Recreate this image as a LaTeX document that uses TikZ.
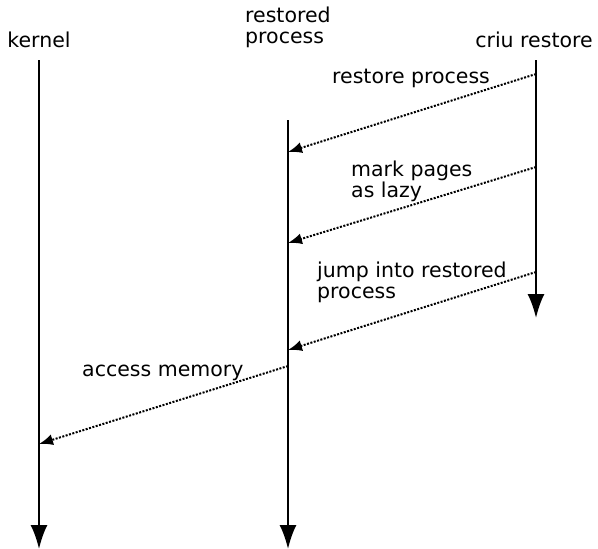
\documentclass[tikz,border=0pt]{standalone}
\usepackage{fontspec}
\setmainfont{DejaVu Sans}
\usetikzlibrary{arrows.meta,positioning}

\begin{document}
\begin{tikzpicture}[
    x=1pt, y=-1pt,
    every node/.style={font=\fontsize{20.5}{20.5}\selectfont, inner sep=0pt},
    actor/.style={anchor=base},
    msgtext/.style={anchor=base west, align=left},
    lifeline/.style={draw, line width=2pt, -{Latex[length=24pt,width=17pt]}},
    message/.style={draw, line width=2pt, dash pattern=on 2pt off 1.5pt, -{Latex[length=14pt,width=11pt]}}
]
\useasboundingbox (0,0) rectangle (598,549);

% Actors
\node [actor] (kernel) at (39,47) {kernel};
\node [msgtext] (restored) at (245,43) {restored\\process};
\node [actor] (criu) at (534,47) {criu restore};

% Lifeline ends
\coordinate (kernel top) at (39,60);
\coordinate (kernel end) at (39,549);
\coordinate (restored top) at (288,120);
\coordinate (restored end) at (288,549);
\coordinate (criu top) at (536,60);
\coordinate (criu end) at (536,318);

% Message ends
\coordinate (criu m1) at (536,74);
\coordinate (restored m1) at (288,152);
\coordinate (criu m2) at (536,167);
\coordinate (restored m2) at (288,243);
\coordinate (criu m3) at (536,272);
\coordinate (restored m3) at (288,350);
\coordinate (restored m4) at (288,366);
\coordinate (kernel m4) at (39,444);

% Lifelines
\path [lifeline] (kernel top) -- (kernel end);
\path [lifeline] (restored top) -- (restored end);
\path [lifeline] (criu top) -- (criu end);

% Messages
\path [message] (criu m1) -- (restored m1);
\path [message] (criu m2) -- (restored m2);
\path [message] (criu m3) -- (restored m3);
\path [message] (restored m4) -- (kernel m4);

% Message texts
\node [msgtext] (restore text) at (332,83) {restore process};
\node [msgtext] (lazy text) at (351,197) {mark pages\\as lazy};
\node [msgtext] (jump text) at (317,298) {jump into restored\\process};
\node [msgtext] (access text) at (82,376) {access memory};

\end{tikzpicture}
\end{document}
